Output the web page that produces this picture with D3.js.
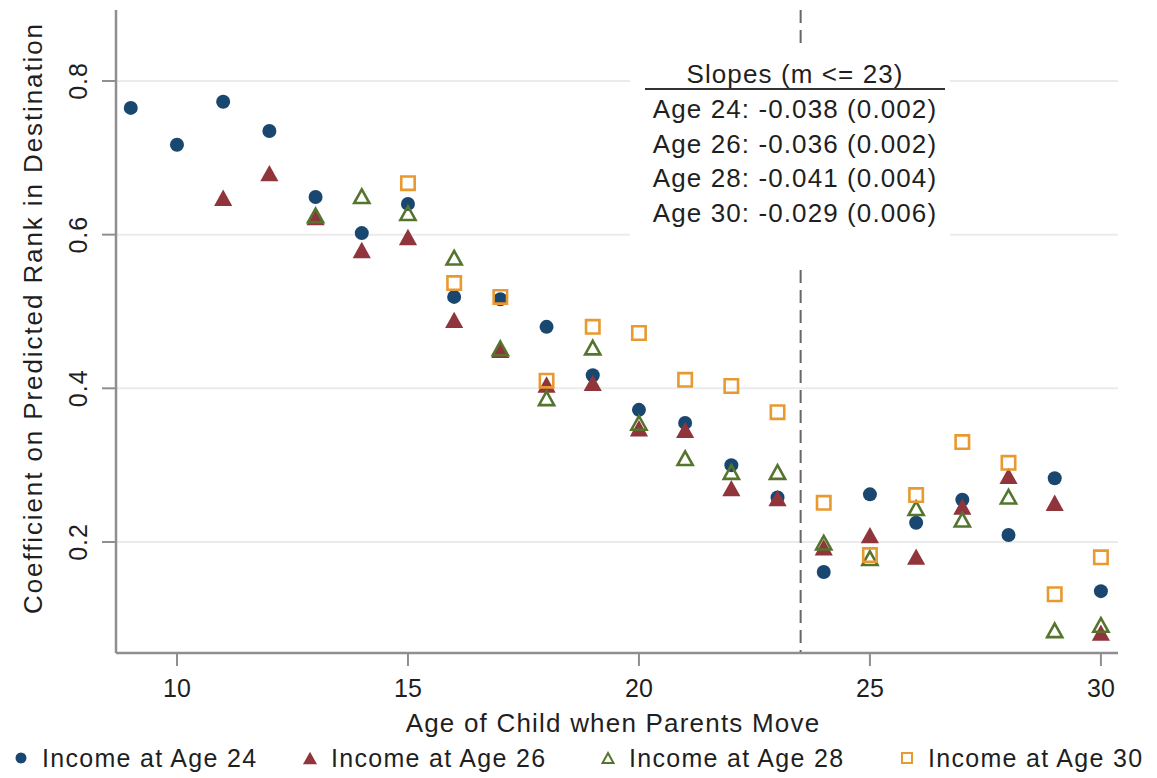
<!DOCTYPE html>
<html>
<head>
<meta charset="utf-8">
<script src="https://cdn.jsdelivr.net/npm/d3@7"></script>
<style>
  html, body { margin: 0; padding: 0; background: #fff; }
  svg { display: block; }
  text { font-family: "Liberation Sans", Arial, sans-serif; fill: #1f1f1f; }
</style>
</head>
<body>
<svg id="chart" width="1157" height="778"></svg>
<script>
// ---- data ----
const ages24 = [9,10,11,12,13,14,15,16,17,18,19,20,21,22,23,24,25,26,27,28,29,30];
const income24 = [0.765,0.717,0.773,0.735,0.649,0.602,0.640,0.519,0.516,0.480,0.417,0.372,0.355,0.300,0.258,0.161,0.262,0.225,0.255,0.209,0.283,0.136];
const ages26 = [11,12,13,14,15,16,17,18,19,20,21,22,23,24,25,26,27,28,29,30];
const income26 = [0.648,0.680,0.623,0.580,0.597,0.489,0.450,0.405,0.407,0.348,0.346,0.270,0.257,0.193,0.209,0.181,0.246,0.286,0.251,0.082];
const ages28 = [13,14,15,16,17,18,19,20,21,22,23,24,25,26,27,28,29,30];
const income28 = [0.625,0.650,0.628,0.570,0.452,0.387,0.453,0.355,0.309,0.291,0.291,0.199,0.179,0.244,0.229,0.259,0.085,0.092];
const ages30 = [15,16,17,18,19,20,21,22,23,24,25,26,27,28,29,30];
const income30 = [0.667,0.537,0.519,0.410,0.480,0.472,0.411,0.403,0.369,0.251,0.183,0.261,0.330,0.303,0.132,0.180];

const xTicks = [10,15,20,25,30];
const yTicks = [0.2,0.4,0.6,0.8];
const cutoff = 23.5;
const seriesNames = ["Income at Age 24","Income at Age 26","Income at Age 28","Income at Age 30"];
const slopeTitle = "Slopes (m <= 23)";
const slopeLines = ["Age 24: -0.038 (0.002)","Age 26: -0.036 (0.002)","Age 28: -0.041 (0.004)","Age 30: -0.029 (0.006)"];
const xTitle = "Age of Child when Parents Move";
const yTitle = "Coefficient on Predicted Rank in Destination";

// ---- styling ----
const colors = ["#1a476f","#90353b","#55752f","#e8992f"];
const svg = d3.select("#chart");
const L = 116, R = 1118, T = 10, B = 653;
const x = d3.scaleLinear().domain([8.68, 30.37]).range([L, R]);
const y = d3.scaleLinear().domain([0.0555, 0.8924]).range([B, T]);

// custom triangle centered at bbox center
const tri = {
  draw(ctx, size) {
    const w = Math.sqrt(size), h = w * 0.9;
    ctx.moveTo(0, -h/2); ctx.lineTo(w/2, h/2); ctx.lineTo(-w/2, h/2); ctx.closePath();
  }
};
const sq = {
  draw(ctx, size) { const s = Math.sqrt(size)/2; ctx.rect(-s,-s,2*s,2*s); }
};

// gridlines
svg.append("g").selectAll("line").data(yTicks).join("line")
  .attr("x1", L).attr("x2", R).attr("y1", d => y(d)).attr("y2", d => y(d))
  .attr("stroke", "#ebebeb").attr("stroke-width", 2);

// dashed cutoff line
svg.append("line").attr("x1", x(cutoff)).attr("x2", x(cutoff)).attr("y1", T).attr("y2", B)
  .attr("stroke", "#666").attr("stroke-width", 2).attr("stroke-dasharray", "13,7");

// points
const series = [
  {ages: ages24, vals: income24, c: colors[0], kind: "circle"},
  {ages: ages26, vals: income26, c: colors[1], kind: "tri"},
  {ages: ages28, vals: income28, c: colors[2], kind: "otri"},
  {ages: ages30, vals: income30, c: colors[3], kind: "osq"}
];
function drawMarker(g, kind, c, big) {
  if (kind === "circle") {
    g.append("circle").attr("r", big ? 7 : 5.5).attr("fill", c);
  } else if (kind === "tri") {
    g.append("path").attr("d", d3.symbol().type(tri).size(big ? 330 : 200)()).attr("fill", c);
  } else if (kind === "otri") {
    g.append("path").attr("d", d3.symbol().type(tri).size(big ? 230 : 120)()).attr("fill", "none")
      .attr("stroke", c).attr("stroke-width", big ? 2.6 : 2);
  } else {
    g.append("path").attr("d", d3.symbol().type(sq).size(big ? 180 : 100)()).attr("fill", "none")
      .attr("stroke", c).attr("stroke-width", big ? 2.6 : 2);
  }
}
series.forEach(s => {
  const pts = s.ages.map((a, i) => [a, s.vals[i]]);
  const gs = svg.append("g").selectAll("g").data(pts).join("g")
    .attr("transform", d => `translate(${x(d[0])},${y(d[1])})`);
  gs.each(function() { drawMarker(d3.select(this), s.kind, s.c, true); });
});

// slopes box
svg.append("rect").attr("x", 630).attr("y", 50).attr("width", 320).attr("height", 215).attr("fill", "#fff");
const boxCx = 795;
svg.append("text").attr("x", boxCx).attr("y", 83).attr("text-anchor", "middle")
  .attr("font-size", 26).attr("letter-spacing", 1.1).text(slopeTitle);
svg.append("line").attr("x1", 645).attr("x2", 945).attr("y1", 89).attr("y2", 89)
  .attr("stroke", "#333").attr("stroke-width", 2);
svg.append("g").selectAll("text").data(slopeLines).join("text")
  .attr("x", boxCx).attr("y", (d, i) => 118 + i * 34.5).attr("text-anchor", "middle")
  .attr("font-size", 26).attr("letter-spacing", 1.1).text(d => d);

// axes
const ax = svg.append("g");
ax.append("line").attr("x1", L).attr("x2", L).attr("y1", T).attr("y2", B).attr("stroke", "#8f8f8f").attr("stroke-width", 2.5);
ax.append("line").attr("x1", L).attr("x2", R).attr("y1", B).attr("y2", B).attr("stroke", "#8f8f8f").attr("stroke-width", 2.5);
ax.selectAll(".xt").data(xTicks).join("line").attr("class", "xt")
  .attr("x1", d => x(d)).attr("x2", d => x(d)).attr("y1", B).attr("y2", B + 13)
  .attr("stroke", "#8f8f8f").attr("stroke-width", 2);
ax.selectAll(".xl").data(xTicks).join("text").attr("class", "xl")
  .attr("x", d => x(d)).attr("y", 697).attr("text-anchor", "middle")
  .attr("font-size", 25).text(d => d);
ax.selectAll(".yt").data(yTicks).join("line").attr("class", "yt")
  .attr("x1", L - 14).attr("x2", L).attr("y1", d => y(d)).attr("y2", d => y(d))
  .attr("stroke", "#8f8f8f").attr("stroke-width", 2);
ax.selectAll(".yl").data(yTicks).join("text").attr("class", "yl")
  .attr("transform", d => `translate(87,${y(d)}) rotate(-90)`).attr("text-anchor", "middle")
  .attr("font-size", 25).attr("letter-spacing", 1).text(d => d.toFixed(1));

// titles
svg.append("text").attr("x", 613).attr("y", 732).attr("text-anchor", "middle")
  .attr("font-size", 26).attr("letter-spacing", 1.2).text(xTitle);
svg.append("text").attr("transform", "translate(42,318) rotate(-90)").attr("text-anchor", "middle")
  .attr("font-size", 26).attr("letter-spacing", 1.9).text(yTitle);

// legend
const legX = [42, 331, 629, 928];
const lg = svg.append("g").selectAll("g").data(seriesNames).join("g");
lg.each(function(d, i) {
  const g = d3.select(this);
  const m = g.append("g").attr("transform", `translate(${legX[i] - 21},758)`);
  drawMarker(m, series[i].kind, series[i].c, false);
  g.append("text").attr("x", legX[i]).attr("y", 767).attr("font-size", 25).attr("letter-spacing", 1.3).text(d);
});
</script>
</body>
</html>
